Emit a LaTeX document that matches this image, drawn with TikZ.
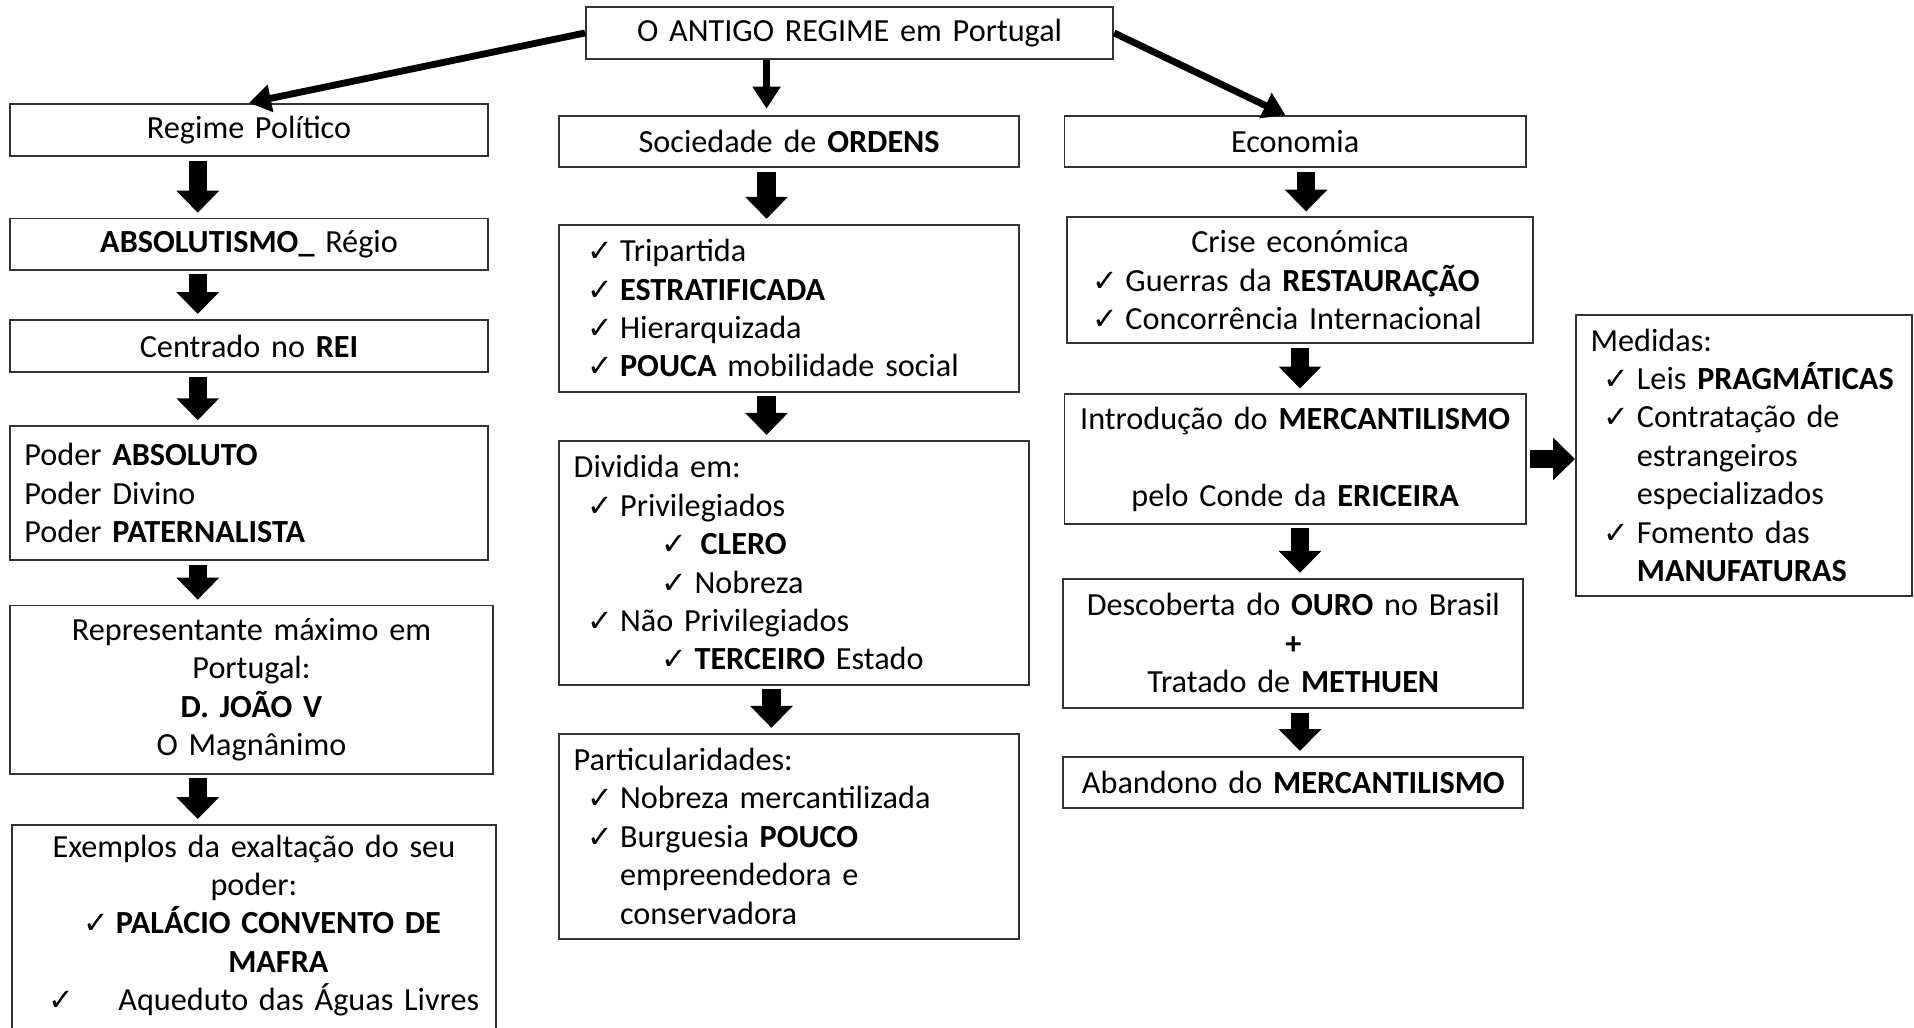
\documentclass[tikz,border=0pt]{standalone}
\usepackage{fontspec}
\setmainfont{Carlito}
\newfontfamily\symf{DejaVu Sans}[Scale=0.95]
\usetikzlibrary{arrows.meta}
\newcommand\ck{\makebox[13.5pt][l]{\symf ✓}}
\newcommand\itm{\hspace*{5.5pt}\ck}
\newcommand\sitm{\hspace*{36pt}\ck}
\begin{document}
\begin{tikzpicture}[x=0.5pt,y=-0.5pt,
  box/.style={draw=black!80, line width=0.75pt, inner xsep=6pt, inner ysep=2pt,
    font=\fontsize{13.2}{15.75}\selectfont, align=center},
  blk/.style={line width=7.5pt, -{Triangle[length=9pt,width=17pt]}, shorten <=1.5pt, shorten >=2pt},
  thinarr/.style={line width=2.8pt, -{Triangle[length=9pt,width=11pt]}}]
\useasboundingbox (0,0) rectangle (1568,842);
\clip (0,0) rectangle (1568,842);
\fill[white] (0,0) rectangle (1568,842);

% top
\node[box, text width=204pt, minimum height=21pt] (top) at (696,27) {O ANTIGO REGIME em Portugal};

% column 1
\node[box, text width=184pt, minimum height=21.5pt] (reg) at (204,106.5) {Regime Político};
\node[box, text width=184pt, minimum height=21pt] (abs) at (204,200) {\textbf{ABSOLUTISMO\_} Régio};
\node[box, text width=184pt, minimum height=21.5pt] (rei) at (204,283.5) {Centrado no \textbf{REI}};
\node[box, text width=184pt, minimum height=55pt, align=left] (pod) at (204,404)
  {Poder \textbf{ABSOLUTO}\\Poder Divino\\Poder \textbf{PATERNALISTA}};
\node[box, text width=186pt, minimum height=69pt] (rep) at (206,565)
  {Representante máximo em\\Portugal:\\\textbf{D. JOÃO V}\\O Magnânimo};
\node[box, text width=186pt, inner ysep=4pt, anchor=north, align=left] (exe) at (208,675)
  {\makebox[186pt][c]{Exemplos da exaltação do seu}\\
   \makebox[186pt][c]{poder:}\\
   \mbox{\hspace*{23pt}\makebox[13.5pt][l]{\symf ✓}\textbf{PALÁCIO CONVENTO DE}}\\
   \mbox{\hspace*{82.5pt}\textbf{MAFRA}}\\
   \mbox{\hspace*{9pt}\makebox[28.5pt][l]{\symf ✓}Aqueduto das Águas Livres}\\
   ~};

% column 2
\node[box, text width=176.5pt, minimum height=21pt] (soc) at (646.5,116) {Sociedade de \textbf{ORDENS}};
\node[box, text width=176.5pt, minimum height=68.5pt, align=left] (tri) at (646.5,252.5)
  {\mbox{\itm Tripartida}\\
   \mbox{\itm\textbf{ESTRATIFICADA}}\\
   \mbox{\itm Hierarquizada}\\
   \mbox{\itm\textbf{POUCA} mobilidade social}};
\node[box, text width=180.5pt, minimum height=100pt, align=left] (div) at (650.5,461)
  {Dividida em:\\
   \mbox{\itm Privilegiados}\\
   \mbox{\sitm\hspace*{2.5pt}\textbf{CLERO}}\\
   \mbox{\sitm Nobreza}\\
   \mbox{\itm Não Privilegiados}\\
   \mbox{\sitm\textbf{TERCEIRO} Estado}};
\node[box, text width=176.5pt, minimum height=84pt, align=left] (par) at (646.5,685)
  {Particularidades:\\
   \mbox{\itm Nobreza mercantilizada}\\
   \mbox{\itm Burguesia \textbf{POUCO}}\\
   \mbox{\hspace*{19pt}empreendedora e}\\
   \mbox{\hspace*{19pt}conservadora}};

% column 3
\node[box, text width=177pt, minimum height=21pt] (eco) at (1061,116) {Economia};
\node[box, text width=179pt, minimum height=51.5pt, align=left] (cri) at (1065,229.5)
  {\makebox[179pt][c]{Crise económica}\\
   \mbox{\hspace*{4.5pt}\ck Guerras da \textbf{RESTAURAÇÃO}}\\
   \mbox{\hspace*{4.5pt}\ck Concorrência Internacional}};
\node[box, text width=177pt, minimum height=53pt] (int) at (1061,376)
  {Introdução do \textbf{MERCANTILISMO}\\~\\pelo Conde da \textbf{ERICEIRA}};
\node[box, text width=176.5pt, minimum height=53pt] (des) at (1059.5,527)
  {Descoberta do \textbf{OURO} no Brasil\\\textbf{+}\\Tratado de \textbf{METHUEN}};
\node[box, text width=176.5pt, minimum height=21pt] (aba) at (1059.5,641)
  {Abandono do \textbf{MERCANTILISMO}};
\node[box, text width=125.5pt, minimum height=115pt, align=left] (med) at (1428.5,373)
  {Medidas:\\
   \mbox{\itm Leis \textbf{PRAGMÁTICAS}}\\
   \mbox{\itm Contratação de}\\
   \mbox{\hspace*{19pt}estrangeiros}\\
   \mbox{\hspace*{19pt}especializados}\\
   \mbox{\itm Fomento das}\\
   \mbox{\hspace*{19pt}\textbf{MANUFATURAS}}};

% top connectors
\coordinate (m2) at (628,89);
\draw[thinarr] (top.west) -- (reg.north);
\draw[thinarr] (top.south -| m2) -- (m2);
\draw[thinarr] (top.east) -- ([xshift=-4pt]eco.north);

% block arrows
\coordinate (cA) at (162,0);
\coordinate (cB) at (628,0);
\coordinate (cB2) at (632,0);
\coordinate (cC1) at (1070,0);
\coordinate (cC) at (1065,0);
\draw[blk] (reg.south -| cA) -- (abs.north -| cA);
\draw[blk] (abs.south -| cA) -- (rei.north -| cA);
\draw[blk] (rei.south -| cA) -- (pod.north -| cA);
\draw[blk] (pod.south -| cA) -- (rep.north -| cA);
\draw[blk] (rep.south -| cA) -- (exe.north -| cA);
\draw[blk] (soc.south -| cB) -- (tri.north -| cB);
\draw[blk] (tri.south -| cB) -- (div.north -| cB);
\draw[blk] (div.south -| cB2) -- (par.north -| cB2);
\draw[blk] (eco.south -| cC1) -- (cri.north -| cC1);
\draw[blk] (cri.south -| cC) -- (int.north -| cC);
\draw[blk] (int.south -| cC) -- (des.north -| cC);
\draw[blk] (des.south -| cC) -- (aba.north -| cC);
\draw[blk, shorten >=0pt] (int.east) -- (int.east -| med.west);
\end{tikzpicture}
\end{document}
